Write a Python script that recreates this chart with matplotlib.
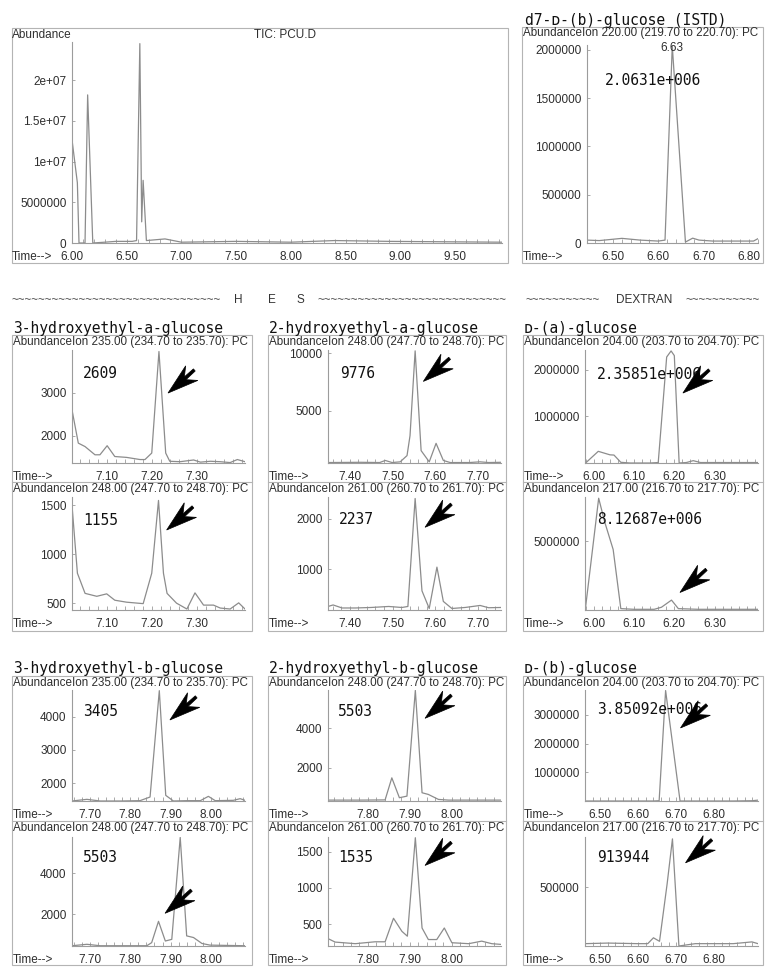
import matplotlib
matplotlib.use("Agg")
import matplotlib.pyplot as plt
import matplotlib.transforms as mtransforms
from matplotlib.patches import Polygon, Rectangle
from matplotlib.lines import Line2D
from matplotlib.ticker import MultipleLocator

plt.rcParams['font.family'] = ['Liberation Sans', 'DejaVu Sans']

W, H = 765, 967
MONO = ['DejaVu Sans Mono', 'DejaVu Sans']
TRACE = '#8c8c8c'
AXIS = '#9c9c9c'
FRAME = '#b4b4b4'
TXT = '#2e2e2e'

# --- data (time in min, abundance) ---
tic_time = [6.000, 6.049, 6.064, 6.119, 6.143, 6.190, 6.300, 6.400, 6.550, 6.590,
            6.620, 6.637, 6.650, 6.680, 6.850, 7.000, 7.500, 8.000, 8.400, 8.900, 9.930]
tic_abund = [1.27e7, 0.74e7, 0.0, 0.0, 1.82e7, 0.0, 0.01e7, 0.02e7, 0.02e7, 0.03e7,
             2.45e7, 0.26e7, 0.77e7, 0.03e7, 0.05e7, 0.01e7, 0.02e7, 0.01e7, 0.03e7, 0.02e7, 0.01e7]

istd_time = [6.443, 6.470, 6.520, 6.560, 6.600, 6.615, 6.631, 6.660, 6.676, 6.690, 6.720, 6.780, 6.810, 6.820]
istd_abund = [0.03e6, 0.025e6, 0.048e6, 0.03e6, 0.02e6, 0.03e6, 2.04e6, 0.01e6, 0.05e6, 0.03e6,
              0.02e6, 0.02e6, 0.02e6, 0.045e6]

h3a_235_time = [7.023, 7.037, 7.052, 7.074, 7.085, 7.101, 7.118, 7.144, 7.174, 7.185, 7.200,
                7.216, 7.231, 7.240, 7.263, 7.293, 7.308, 7.330, 7.352, 7.374, 7.390, 7.407]
h3a_235_abund = [2600, 1830, 1750, 1560, 1560, 1770, 1520, 1500, 1450, 1450, 1600,
                 3950, 1600, 1410, 1400, 1440, 1390, 1410, 1400, 1380, 1450, 1400]

h3a_248_time = [7.023, 7.035, 7.052, 7.078, 7.100, 7.118, 7.144, 7.181, 7.200, 7.215, 7.226,
                7.234, 7.255, 7.278, 7.296, 7.315, 7.337, 7.352, 7.374, 7.393, 7.407]
h3a_248_abund = [1500, 806, 600, 570, 595, 530, 510, 495, 806, 1550, 806,
                 600, 500, 440, 605, 480, 480, 450, 440, 503, 440]

h2a_248_time = [7.350, 7.425, 7.470, 7.483, 7.499, 7.518, 7.534, 7.541, 7.553, 7.567, 7.586,
                7.602, 7.619, 7.635, 7.680, 7.705, 7.725, 7.754]
h2a_248_abund = [540, 560, 540, 720, 540, 600, 1140, 2860, 10200, 1570, 600,
                 2200, 720, 540, 540, 600, 540, 560]

h2a_261_time = [7.349, 7.361, 7.382, 7.413, 7.450, 7.491, 7.522, 7.536, 7.553, 7.569, 7.586,
                7.604, 7.619, 7.639, 7.670, 7.705, 7.725, 7.754]
h2a_261_abund = [260, 290, 230, 230, 240, 260, 240, 260, 2400, 570, 220,
                 1040, 360, 220, 240, 280, 235, 240]

dga_204_time = [5.982, 6.011, 6.040, 6.050, 6.067, 6.090, 6.140, 6.160, 6.181, 6.192, 6.200,
                6.212, 6.230, 6.247, 6.265, 6.330, 6.408]
dga_204_abund = [0.02e6, 0.25e6, 0.175e6, 0.17e6, 0.015e6, 0.0, 0.0, 0.01e6, 2.27e6, 2.40e6, 2.30e6,
                 0.0, 0.01e6, 0.05e6, 0.01e6, 0.01e6, 0.01e6]

dga_217_time = [5.979, 6.012, 6.027, 6.048, 6.067, 6.100, 6.150, 6.168, 6.193, 6.210, 6.260, 6.330, 6.408]
dga_217_abund = [0.1e6, 8.13e6, 6.4e6, 4.4e6, 0.1e6, 0.05e6, 0.05e6, 0.2e6, 0.72e6, 0.1e6,
                 0.05e6, 0.05e6, 0.05e6]

h3b_235_time = [7.655, 7.692, 7.725, 7.775, 7.824, 7.849, 7.872, 7.888, 7.907, 7.940, 7.974,
                7.994, 8.011, 8.056, 8.073, 8.085]
h3b_235_abund = [1460, 1510, 1460, 1460, 1470, 1580, 4780, 1630, 1460, 1470, 1470,
                 1600, 1470, 1480, 1530, 1480]

h3b_248_time = [7.655, 7.692, 7.725, 7.841, 7.853, 7.870, 7.887, 7.903, 7.924, 7.940, 7.957,
                7.978, 7.998, 8.085]
h3b_248_abund = [460, 530, 460, 460, 610, 1650, 690, 770, 5740, 940, 860,
                 570, 490, 460]

h2b_248_time = [7.705, 7.780, 7.841, 7.857, 7.875, 7.893, 7.913, 7.929, 7.944, 7.968, 7.992, 8.050, 8.117]
h2b_248_abund = [380, 380, 390, 1500, 500, 580, 5900, 750, 665, 415, 380, 380, 380]

h2b_261_time = [7.705, 7.722, 7.770, 7.817, 7.841, 7.861, 7.881, 7.894, 7.913, 7.929, 7.944,
                7.964, 7.982, 8.000, 8.040, 8.071, 8.095, 8.117]
h2b_261_abund = [300, 252, 230, 256, 256, 580, 400, 333, 1690, 446, 287,
                 287, 446, 243, 230, 265, 230, 220]

dgb_204_time = [6.460, 6.550, 6.640, 6.655, 6.672, 6.710, 6.760, 6.850, 6.900, 6.915]
dgb_204_abund = [0.0, 0.0, 0.0, 0.01e6, 3.85e6, 0.0, 0.0, 0.0, 0.01e6, 0.03e6]

dgb_217_time = [6.460, 6.520, 6.600, 6.625, 6.640, 6.656, 6.676, 6.690, 6.707, 6.750, 6.850, 6.899, 6.915]
dgb_217_abund = [0.02e6, 0.025e6, 0.02e6, 0.02e6, 0.07e6, 0.04e6, 0.53e6, 0.914e6, 0.0, 0.02e6,
                 0.02e6, 0.035e6, 0.02e6]

compound_titles = ['3-hydroxyethyl-a-glucose', '2-hydroxyethyl-a-glucose', 'ᴅ-(a)-glucose',
                   '3-hydroxyethyl-b-glucose', '2-hydroxyethyl-b-glucose', 'ᴅ-(b)-glucose']
ion_headers = {
    204: 'AbundanceIon 204.00 (203.70 to 204.70): PC',
    217: 'AbundanceIon 217.00 (216.70 to 217.70): PC',
    220: 'AbundanceIon 220.00 (219.70 to 220.70): PC',
    235: 'AbundanceIon 235.00 (234.70 to 235.70): PC',
    248: 'AbundanceIon 248.00 (247.70 to 248.70): PC',
    261: 'AbundanceIon 261.00 (260.70 to 261.70): PC',
}
peak_areas = ['2609', '1155', '9776', '2237', '2.35851e+006', '8.12687e+006',
              '3405', '5503', '5503', '1535', '3.85092e+006', '913944']

# --- layout (pixel coordinates of the 765x967 page) ---
COL_FRAMES = [(12, 252), (268, 506), (523, 763)]
COL_AXES = [(72, 245), (328, 501), (585, 758)]
ROW_BLOCKS = [(335, 482, 631), (676, 821, 965)]
SUB_AXES = [[(350, 463), (497, 610)], [(690, 801), (837, 946)]]


def fx(x):
    return x / W


def fy(y):
    return 1 - y / H


def tick_text(v):
    return '%g' % v if v >= 1e7 else '%d' % v


fig = plt.figure(figsize=(W / 100, H / 100), dpi=100)


def trace_axes(box, label_x, time, abund, xlim, ylim, xticks, yticks, minor):
    x0, x1, ytop, ybot = box
    ax = fig.add_axes([fx(x0), fy(ybot), (x1 - x0) / W, (ybot - ytop) / H])
    ax.patch.set_visible(False)
    ax.plot(time, abund, color=TRACE, lw=0.9)
    ax.set_xlim(*xlim)
    ax.set_ylim(*ylim)
    for side in ('top', 'right'):
        ax.spines[side].set_visible(False)
    for side in ('left', 'bottom'):
        ax.spines[side].set_color(AXIS)
        ax.spines[side].set_linewidth(0.8)
    ax.set_xticks(xticks)
    ax.set_xticklabels(['%.2f' % v for v in xticks])
    ax.xaxis.set_minor_locator(MultipleLocator(minor))
    ax.set_yticks(yticks)
    ax.set_yticklabels([tick_text(v) for v in yticks])
    ax.tick_params(axis='x', which='both', direction='in', length=3, width=0.6,
                   color=AXIS, pad=6, labelsize=8.5, labelcolor=TXT)
    ax.tick_params(axis='y', direction='in', length=2, width=0.6, color=AXIS,
                   pad=4, labelsize=8.5, labelcolor=TXT)
    fig.text(fx(label_x), fy(ybot + 8.3), 'Time-->', ha='left', va='top', fontsize=8.5, color=TXT)
    return ax


# notched arrowhead plus short shaft, in pixels, tip at origin pointing along -x
ARROW_HEAD = [(0, 0), (31, 9.5), (21, 0), (31, -9.5)]
ARROW_SHAFT = [(15, 1.7), (35, 2.2), (35, -0.6), (15, -1.7)]


def draw_arrow(ax, tip):
    tr = (mtransforms.Affine2D().rotate_deg(40)
          + mtransforms.ScaledTranslation(tip[0], tip[1], ax.transAxes))
    for verts in (ARROW_HEAD, ARROW_SHAFT):
        ax.add_patch(Polygon(verts, closed=True, transform=tr, facecolor='black',
                             edgecolor='black', lw=0.5, clip_on=False, zorder=6))


def frame(x0, x1, ytop, ybot):
    fig.add_artist(Rectangle((fx(x0), fy(ybot)), (x1 - x0) / W, (ybot - ytop) / H,
                             transform=fig.transFigure, fill=False, edgecolor=FRAME, lw=0.8))


# --- TIC overview ---
frame(12, 508, 28, 263)
fig.text(fx(12), fy(35), 'Abundance', ha='left', va='center', fontsize=8.5, color=TXT)
fig.text(fx(285), fy(35), 'TIC: PCU.D', ha='center', va='center', fontsize=8.5, color=TXT)
trace_axes((72, 502, 42, 243), 12, tic_time, tic_abund, (6.0, 9.93), (0, 2.47e7),
           [6.0, 6.5, 7.0, 7.5, 8.0, 8.5, 9.0, 9.5], [0, 5e6, 1e7, 1.5e7, 2e7], 0.1)

# --- internal standard ---
fig.text(fx(525), fy(20), 'd7-ᴅ-(b)-glucose (ISTD)', ha='left', va='center',
         fontsize=10.5, family=MONO, color='#111111')
frame(522, 763, 27, 263)
fig.text(fx(523), fy(33), ion_headers[220], ha='left', va='center', fontsize=8.4, color=TXT)
ax = trace_axes((587, 758, 45, 243), 523, istd_time, istd_abund, (6.443, 6.82), (0, 2.05e6),
                [6.5, 6.6, 6.7, 6.8], [0, 5e5, 1e6, 1.5e6, 2e6], 0.02)
ax.text(0.497, 0.985, '6.63', transform=ax.transAxes, ha='center', va='center',
        fontsize=8.5, color=TXT)
ax.text(0.105, 0.823, '2.0631e+006', transform=ax.transAxes, ha='left', va='center',
        fontsize=10.5, family=MONO, color='#111111')

# --- group separators ---
sep_y = fy(300)
fig.text(fx(12), sep_y, '~' * 31, ha='left', va='center', fontsize=8.5, color='#555555')
for letter, xp in zip('HES', (238, 272, 300)):
    fig.text(fx(xp), sep_y, letter, ha='center', va='center', fontsize=8.5, color='#333333')
fig.text(fx(506), sep_y, '~' * 28, ha='right', va='center', fontsize=8.5, color='#555555')
fig.text(fx(525), sep_y, '~' * 11, ha='left', va='center', fontsize=8.5, color='#555555')
fig.text(fx(644), sep_y, 'DEXTRAN', ha='center', va='center', fontsize=8.5, color='#333333')
fig.text(fx(685), sep_y, '~' * 11, ha='left', va='center', fontsize=8.5, color='#555555')

# --- compound panels ---
panels = [
    # (row, col, ion, time, abund, xlim, ylim, xticks, yticks)
    (0, 0, 235, h3a_235_time, h3a_235_abund, (7.023, 7.407), (1370, 3985), [7.1, 7.2, 7.3], [2000, 3000]),
    (0, 0, 248, h3a_248_time, h3a_248_abund, (7.023, 7.407), (430, 1585), [7.1, 7.2, 7.3], [500, 1000, 1500]),
    (0, 1, 248, h2a_248_time, h2a_248_abund, (7.349, 7.754), (500, 10275), [7.4, 7.5, 7.6, 7.7], [5000, 10000]),
    (0, 1, 261, h2a_261_time, h2a_261_abund, (7.349, 7.754), (190, 2430), [7.4, 7.5, 7.6, 7.7], [1000, 2000]),
    (0, 2, 204, dga_204_time, dga_204_abund, (5.978, 6.408), (0, 2.42e6), [6.0, 6.1, 6.2, 6.3], [1e6, 2e6]),
    (0, 2, 217, dga_217_time, dga_217_abund, (5.978, 6.408), (0, 8.22e6), [6.0, 6.1, 6.2, 6.3], [5e6]),
    (1, 0, 235, h3b_235_time, h3b_235_abund, (7.655, 8.085), (1460, 4800), [7.7, 7.8, 7.9, 8.0], [2000, 3000, 4000]),
    (1, 0, 248, h3b_248_time, h3b_248_abund, (7.655, 8.085), (447, 5760), [7.7, 7.8, 7.9, 8.0], [2000, 4000]),
    (1, 1, 248, h2b_248_time, h2b_248_abund, (7.705, 8.117), (335, 5920), [7.8, 7.9, 8.0], [2000, 4000]),
    (1, 1, 261, h2b_261_time, h2b_261_abund, (7.705, 8.117), (198, 1700), [7.8, 7.9, 8.0], [500, 1000, 1500]),
    (1, 2, 204, dgb_204_time, dgb_204_abund, (6.46, 6.915), (0, 3.87e6), [6.5, 6.6, 6.7, 6.8], [1e6, 2e6, 3e6]),
    (1, 2, 217, dgb_217_time, dgb_217_abund, (6.46, 6.915), (0, 0.93e6), [6.5, 6.6, 6.7, 6.8], [5e5]),
]
# label / arrow-tip placement in axes fractions
label_pos = [(0.064, 0.788), (0.064, 0.796), (0.069, 0.796), (0.060, 0.805), (0.069, 0.779), (0.069, 0.798),
             (0.065, 0.804), (0.065, 0.815), (0.060, 0.804), (0.060, 0.815), (0.068, 0.821), (0.068, 0.811)]
arrow_tips = [(0.555, 0.619), (0.547, 0.708), (0.551, 0.722), (0.561, 0.732), (0.566, 0.619), (0.549, 0.155),
              (0.566, 0.730), (0.538, 0.300), (0.561, 0.745), (0.561, 0.739), (0.552, 0.658), (0.581, 0.763)]

for row, (btop, bsplit, bbot) in enumerate(ROW_BLOCKS):
    for col, (c0, c1) in enumerate(COL_FRAMES):
        frame(c0, c1, btop, bbot)
        fig.add_artist(Line2D([fx(c0), fx(c1)], [fy(bsplit), fy(bsplit)],
                              transform=fig.transFigure, color=FRAME, lw=0.8))
        fig.text(fx(c0 + 1), fy(btop - 7), compound_titles[row * 3 + col], ha='left', va='center',
                 fontsize=10.5, family=MONO, color='#111111')

for i, (row, col, ion, t, a, xlim, ylim, xt, yt) in enumerate(panels):
    sub = i % 2
    ytop, ybot = SUB_AXES[row][sub]
    x0, x1 = COL_AXES[col]
    head_y = (ROW_BLOCKS[row][0] if sub == 0 else ROW_BLOCKS[row][1]) + 7
    fig.text(fx(COL_FRAMES[col][0] + 1), fy(head_y), ion_headers[ion], ha='left', va='center',
             fontsize=8.4, color=TXT)
    ax = trace_axes((x0, x1, ytop, ybot), COL_FRAMES[col][0] + 1, t, a, xlim, ylim, xt, yt, 0.02)
    ax.text(label_pos[i][0], label_pos[i][1], peak_areas[i], transform=ax.transAxes,
            ha='left', va='center', fontsize=10.5, family=MONO, color='#111111', zorder=5)
    draw_arrow(ax, arrow_tips[i])

fig.savefig('out.png', dpi=100)
